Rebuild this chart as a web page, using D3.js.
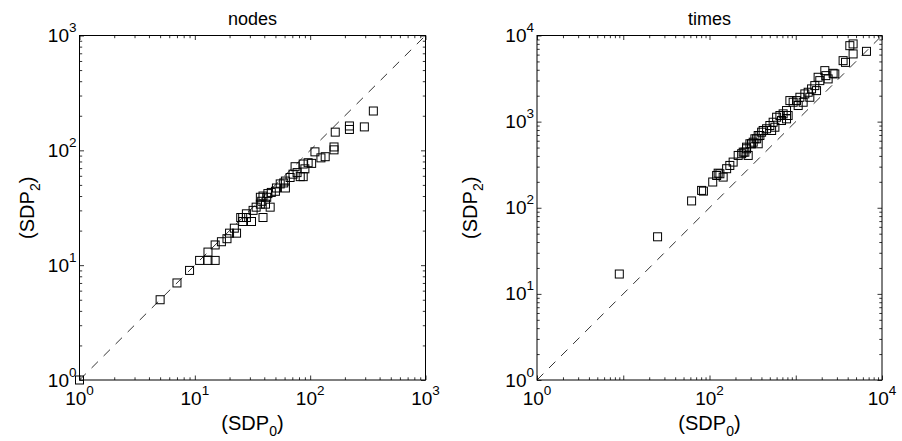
<!DOCTYPE html>
<html>
<head>
<meta charset="utf-8">
<script src="https://cdn.jsdelivr.net/npm/d3@7"></script>
<style>
  html, body { margin: 0; padding: 0; background: #fff; }
  svg { display: block; font-family: "Liberation Sans", Arial, Helvetica, sans-serif; }
</style>
</head>
<body>
<svg id="chart"></svg>
<script>
// nodes panel: SDP0 (x) vs SDP2 (y)
const nodesSDP0 = [1, 5, 7, 9, 11, 13, 15, 13, 15, 17, 19, 20, 23, 22, 26, 28, 26, 31, 32, 39,
    38, 42, 45, 46, 51, 50, 43, 39, 37, 59, 61, 82, 87, 74, 87, 103, 124, 135, 110, 161,
    161, 165, 219, 219, 295, 353, 71, 67, 77, 90, 96, 55, 61, 37, 41, 34, 25, 28];
const nodesSDP2 = [1, 5, 7, 9, 11, 11, 11, 13, 15, 16, 17, 19, 19, 21, 24, 26, 26, 24, 30, 26,
    36, 39, 32, 43, 47, 44, 42, 40, 39, 52, 47, 59, 59, 72, 76, 77, 86, 88, 97, 107,
    101, 144, 163, 152, 160, 220, 62, 58, 64, 69, 78, 51, 54, 34, 34, 32, 26, 28];

// times panel: SDP0 (x) vs SDP2 (y)
const timesSDP0 = [9, 25, 62, 81, 85, 109, 121, 132, 144, 126, 158, 172, 188, 215, 236, 257, 281, 269, 307, 336,
    367, 402, 459, 501, 547, 294, 367, 269, 246, 384, 352, 321, 525, 573, 419, 600, 655, 714, 782, 684,
    782, 816, 855, 933, 1021, 1117, 1067, 1218, 1275, 1393, 1525, 1664, 1742, 1456, 1817, 1900, 2232, 2374, 2712, 2837,
    2173, 3540, 3776, 4624, 4236, 6607, 4624];
const timesSDP2 = [17, 46, 120, 159, 156, 199, 237, 248, 227, 252, 284, 310, 339, 405, 424, 442, 405, 505, 553, 632,
    690, 754, 826, 901, 984, 553, 553, 484, 442, 690, 632, 577, 789, 861, 789, 1125, 1177, 1231, 1345, 1030,
    1077, 1177, 1755, 1679, 1755, 1918, 1538, 1679, 2099, 2193, 2399, 2620, 2291, 1918, 3273, 2993, 3420, 3133, 3639, 3581,
    3909, 5105, 4875, 7980, 7622, 6546, 6109];

// tick labels (powers of ten)
const nodesXExps = [0, 1, 2, 3];
const nodesYExps = [0, 1, 2, 3];
const timesXExps = [0, 2, 4];
const timesYExps = [0, 1, 2, 3, 4];

const W = 902, H = 441;
const svg = d3.select('#chart').attr('width', W).attr('height', H);

const plotTop = 35.5, plotH = 344.5;

const panels = [
    { title: 'nodes', xs: nodesSDP0, ys: nodesSDP2, max: 1e3, left: 79.5, w: 346, xExps: nodesXExps, yExps: nodesYExps },
    { title: 'times', xs: timesSDP0, ys: timesSDP2, max: 1e4, left: 537, w: 345, xExps: timesXExps, yExps: timesYExps }
];

const isMajor = v => Math.abs(Math.log10(v) - Math.round(Math.log10(v))) < 1e-9;

function powLabel(sel, exp, anchor) {
    sel.attr('text-anchor', anchor).attr('font-size', 19);
    sel.append('tspan').text('10');
    sel.append('tspan').attr('dy', -10).attr('font-size', 13.5).text(exp);
}

panels.forEach(p => {
    const g = svg.append('g').attr('transform', `translate(${p.left},${plotTop})`);
    const x = d3.scaleLog().domain([1, p.max]).range([0, p.w]);
    const y = d3.scaleLog().domain([1, p.max]).range([plotH, 0]);

    // ticks on all four sides, pointing inward
    const sides = [
        { axis: d3.axisBottom(x), tr: `translate(0,${plotH})`, attr: 'y2' },
        { axis: d3.axisTop(x), tr: 'translate(0,0)', attr: 'y2' },
        { axis: d3.axisLeft(y), tr: 'translate(0,0)', attr: 'x2' },
        { axis: d3.axisRight(y), tr: `translate(${p.w},0)`, attr: 'x2' }
    ];
    sides.forEach(s => {
        const a = g.append('g').attr('transform', s.tr)
            .call(s.axis.tickValues(x.ticks()).tickSize(-4.5).tickFormat(''));
        a.select('.domain').remove();
        a.selectAll('.tick line')
            .attr('stroke', '#000')
            .attr('stroke-width', 0.8)
            .filter(d => !isMajor(d))
            .attr(s.attr, function () { return +d3.select(this).attr(s.attr) * 0.6; });
    });

    // box
    g.append('rect')
        .attr('width', p.w).attr('height', plotH)
        .attr('fill', 'none').attr('stroke', '#000').attr('stroke-width', 1);

    // diagonal y = x
    g.append('path')
        .datum([1, p.max])
        .attr('d', d3.line().x(d => x(d)).y(d => y(d)))
        .attr('fill', 'none').attr('stroke', '#000')
        .attr('stroke-width', 0.8).attr('stroke-dasharray', '9,8');

    // squares
    const s = 8;
    g.selectAll('rect.pt')
        .data(p.xs.map((v, i) => [v, p.ys[i]]))
        .join('rect')
        .attr('class', 'pt')
        .attr('x', d => x(d[0]) - s / 2)
        .attr('y', d => y(d[1]) - s / 2)
        .attr('width', s).attr('height', s)
        .attr('fill', 'none').attr('stroke', '#000').attr('stroke-width', 1);

    // tick labels
    p.xExps.forEach(e => {
        g.append('text')
            .attr('x', x(Math.pow(10, e)))
            .attr('y', plotH + 25)
            .call(powLabel, e, 'middle');
    });
    p.yExps.forEach(e => {
        g.append('text')
            .attr('x', -3)
            .attr('y', y(Math.pow(10, e)) + 6.5)
            .call(powLabel, e, 'end');
    });

    // title
    g.append('text')
        .attr('x', p.w / 2).attr('y', -11)
        .attr('text-anchor', 'middle').attr('font-size', 18)
        .text(p.title);

    // x label (SDP_0)
    const xl = g.append('text')
        .attr('x', p.w / 2).attr('y', plotH + 50)
        .attr('text-anchor', 'middle').attr('font-size', 20);
    xl.append('tspan').text('(SDP');
    xl.append('tspan').attr('dy', 6).attr('font-size', 14).text('0');
    xl.append('tspan').attr('dy', -6).text(')');

    // y label (SDP_2)
    const ylx = p.title === 'nodes' ? -46 : -60;
    const yl = g.append('text')
        .attr('transform', `translate(${ylx},${plotH / 2}) rotate(-90)`)
        .attr('text-anchor', 'middle').attr('font-size', 20);
    yl.append('tspan').text('(SDP');
    yl.append('tspan').attr('dy', 6).attr('font-size', 14).text('2');
    yl.append('tspan').attr('dy', -6).text(')');
});
</script>
</body>
</html>
